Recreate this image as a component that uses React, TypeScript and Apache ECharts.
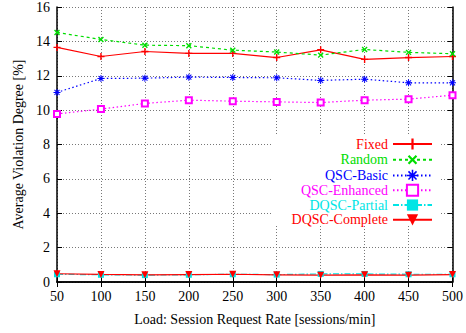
import React, { useEffect, useRef } from "react";
import * as echarts from "echarts";

const loads = [50, 100, 150, 200, 250, 300, 350, 400, 450, 500];
const fixed = [13.65, 13.12, 13.41, 13.3, 13.3, 13.06, 13.51, 12.95, 13.06, 13.12];
const random = [14.52, 14.11, 13.78, 13.75, 13.49, 13.38, 13.2, 13.53, 13.36, 13.28];
const qscBasic = [11.03, 11.84, 11.86, 11.92, 11.9, 11.88, 11.73, 11.8, 11.59, 11.59];
const qscEnhanced = [9.78, 10.06, 10.39, 10.58, 10.52, 10.48, 10.44, 10.58, 10.64, 10.87];
const dqscPartial = [0.45, 0.42, 0.4, 0.42, 0.45, 0.43, 0.47, 0.47, 0.45, 0.45];
const dqscComplete = [0.48, 0.44, 0.42, 0.43, 0.45, 0.42, 0.4, 0.42, 0.4, 0.43];

const seriesNames = ["Fixed", "Random", "QSC-Basic", "QSC-Enhanced", "DQSC-Partial", "DQSC-Complete"];

const FONT = "Liberation Serif";

const PLUS = "path://M4,0H6V4H10V6H6V10H4V6H0V4H4Z";
const STAR =
  "path://M4.3,0H5.7V3.3L8.1,0.9L9.1,1.9L6.7,4.3H10V5.7H6.7L9.1,8.1L8.1,9.1L5.7,6.7V10H4.3V6.7L1.9,9.1L0.9,8.1L3.3,5.7H0V4.3H3.3L0.9,1.9L1.9,0.9L4.3,3.3Z";

export default function App() {
  const ref = useRef<HTMLDivElement>(null);
  useEffect(() => {
    if (!ref.current) return;
    const chart = echarts.init(ref.current, undefined, { renderer: "svg" });
    const pair = (arr: number[]) => loads.map((x, i) => [x, arr[i]]);
    const defs = [
      { name: seriesNames[0], data: fixed, color: "#ff0000", type: "solid", symbol: PLUS, size: 7, rotate: 0 },
      { name: seriesNames[1], data: random, color: "#00dd00", type: [3, 3], symbol: PLUS, size: 7, rotate: 45 },
      { name: seriesNames[2], data: qscBasic, color: "#0000ff", type: [1.5, 2.5], symbol: STAR, size: 7, rotate: 0 },
      { name: seriesNames[3], data: qscEnhanced, color: "#ff00ff", type: [1.5, 2.5], symbol: "emptyRect", size: 6, rotate: 0 },
      { name: seriesNames[4], data: dqscPartial, color: "#00e5e5", type: [6, 2, 1.5, 2], symbol: "rect", size: 6, rotate: 0 },
      { name: seriesNames[5], data: dqscComplete, color: "#ff0000", type: "solid", symbol: "triangle", size: 7, rotate: 180 },
    ];
    const axisCommon = {
      type: "value" as const,
      axisLine: { show: true, lineStyle: { color: "#000", width: 1.5 } },
      axisTick: { show: true, inside: true, length: 5, lineStyle: { color: "#000", width: 1 } },
    };
    chart.setOption({
      animation: false,
      backgroundColor: "#fff",
      grid: { left: 57, right: 10, top: 7, bottom: 51 },
      xAxis: [
        {
          ...axisCommon,
          min: 50,
          max: 500,
          interval: 50,
          position: "bottom",
          axisLabel: { color: "#000", fontFamily: FONT, fontSize: 14, margin: 7 },
          splitLine: { show: true, lineStyle: { color: "#777", type: [1, 2], width: 1 } },
          name: "Load: Session Request Rate [sessions/min]",
          nameLocation: "middle",
          nameGap: 30,
          nameTextStyle: { color: "#000", fontFamily: FONT, fontSize: 14 },
        },
        {
          ...axisCommon,
          min: 50,
          max: 500,
          interval: 50,
          position: "top",
          axisLabel: { show: false },
          splitLine: { show: false },
        },
      ],
      yAxis: [
        {
          ...axisCommon,
          min: 0,
          max: 16,
          interval: 2,
          position: "left",
          axisLabel: { color: "#000", fontFamily: FONT, fontSize: 14, margin: 7 },
          splitLine: { show: true, lineStyle: { color: "#777", type: [1, 2], width: 1 } },
          name: "Average Violation Degree [%]",
          nameLocation: "middle",
          nameGap: 32,
          nameRotate: 90,
          nameTextStyle: { color: "#000", fontFamily: FONT, fontSize: 14 },
        },
        {
          ...axisCommon,
          min: 0,
          max: 16,
          interval: 2,
          position: "right",
          axisLabel: { show: false },
          splitLine: { show: false },
        },
      ],
      graphic: [
        {
          type: "rect",
          z: 1,
          shape: { x: 271, y: 134, width: 170, height: 90 },
          style: { fill: "#fff" },
        },
      ],
      legend: {
        orient: "vertical",
        align: "right",
        right: 33,
        top: 137,
        padding: 0,
        itemWidth: 39,
        itemHeight: 14,
        itemGap: 0.8,
        selectedMode: false,
        textStyle: { fontFamily: FONT, fontSize: 14, lineHeight: 14 },
        data: defs.map((d) => ({ name: d.name, textStyle: { color: d.color } })),
      },
      series: defs.map((d) => ({
        name: d.name,
        type: "line",
        xAxisIndex: 0,
        yAxisIndex: 0,
        data: pair(d.data),
        symbol: d.symbol,
        symbolSize: d.size,
        symbolRotate: d.rotate,
        showAllSymbol: true,
        color: d.color,
        lineStyle: { color: d.color, width: 1.2, type: d.type },
        itemStyle: { color: d.color, borderWidth: d.symbol === "emptyRect" ? 1.2 : 0 },
        emphasis: { disabled: true },
      })),
    });
    return () => chart.dispose();
  }, []);
  return <div ref={ref} style={{ position: "fixed", left: 0, top: 0, width: 466, height: 333 }} />;
}
